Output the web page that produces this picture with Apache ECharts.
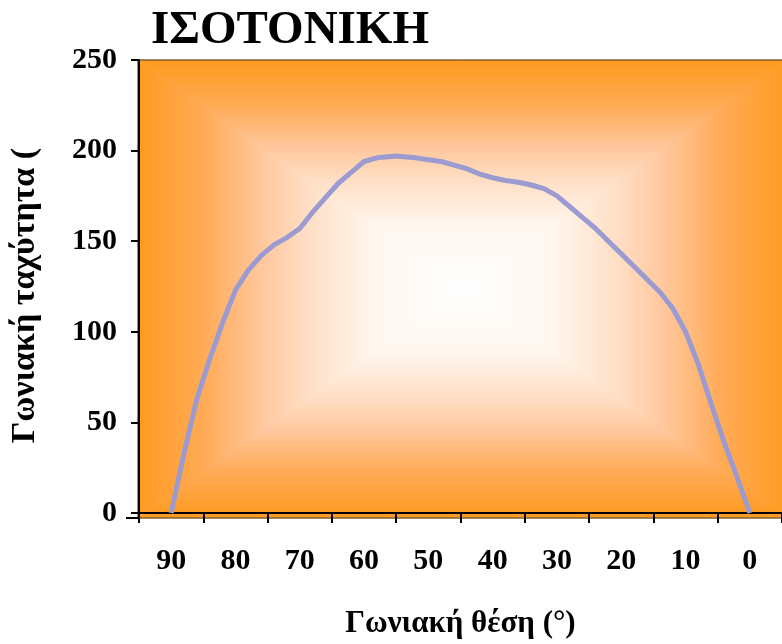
<!DOCTYPE html>
<html>
<head>
<meta charset="utf-8">
<title>ΙΣΟΤΟΝΙΚΗ</title>
<script src="https://cdn.jsdelivr.net/npm/echarts@6/dist/echarts.min.js"></script>
<style>
  html, body { margin: 0; padding: 0; background: #fff; }
  #chart { width: 782px; height: 644px; }
</style>
</head>
<body>
<div id="chart"></div>
<script>
// angular position (deg) and angular velocity
const angles = [90, 88, 86, 84, 82, 80, 78, 76, 74, 72, 70, 68, 66, 64, 62, 60, 58, 55, 52, 50,
  48, 46, 44, 42, 40, 38, 36, 34, 32, 30, 28, 26, 24, 22, 20, 18, 16, 14, 12, 10, 8, 6, 4, 2, 0];
const speeds = [0, 33, 63, 85, 105, 123, 134, 142, 148, 152, 157, 166, 174, 182, 188, 194, 196, 197, 196, 195,
  194, 192, 190, 187, 185, 183.5, 182.5, 181, 179, 175, 169, 163, 157, 150, 143, 136, 129, 122, 113, 100, 82, 60, 39, 20, 0];
const xLabels = ['90', '80', '70', '60', '50', '40', '30', '20', '10', '0'];

const FONT = "'Liberation Serif', 'Times New Roman', serif";
const GRID = { left: 138, top: 60, width: 650, height: 458 };

const stops = [
  { offset: 0, color: '#FFFFFF' },
  { offset: 0.28, color: '#FFF6EE' },
  { offset: 0.48, color: '#FFDEC4' },
  { offset: 0.62, color: '#FFC79C' },
  { offset: 0.8, color: '#FFAA55' },
  { offset: 1, color: '#FF9A1E' }
];

// rectangular "from centre" fill of the plot area, made of four triangles
function backdrop() {
  const l = GRID.left, t = GRID.top, r = l + GRID.width, b = t + GRID.height;
  const c = [l + GRID.width / 2, t + GRID.height / 2];
  const tri = (pts, x, y, x2, y2) => {
    const fill = { type: 'linear', x, y, x2, y2, colorStops: stops };
    return {
      type: 'polygon',
      silent: true,
      z: -10,
      shape: { points: pts },
      style: { fill, stroke: fill, lineWidth: 1 }
    };
  };
  return [
    tri([c, [l, t], [r, t]], 0, 1, 0, 0),
    tri([c, [l, b], [r, b]], 0, 0, 0, 1),
    tri([c, [l, t], [l, b]], 1, 0, 0, 0),
    tri([c, [r, t], [r, b]], 0, 0, 1, 0),
    {
      type: 'rect', silent: true, z: -5,
      shape: { x: l, y: t, width: GRID.width, height: GRID.height },
      style: { fill: 'none', stroke: '#444', lineWidth: 1 }
    },
    // the category axis line runs a little past the value axis, as in the original
    {
      type: 'line', silent: true, z: 5,
      shape: { x1: l - 12, y1: b, x2: l, y2: b },
      style: { stroke: '#000', lineWidth: 2 }
    }
  ];
}

const chart = echarts.init(document.getElementById('chart'));

const option = {
  animation: false,
  backgroundColor: '#fff',
  title: {
    text: 'ΙΣΟΤΟΝΙΚΗ',
    left: 146,
    top: 2,
    textStyle: { fontFamily: FONT, fontWeight: 'bold', fontSize: 47, color: '#000' }
  },
  grid: {
    left: GRID.left,
    top: GRID.top,
    right: 782 - GRID.left - GRID.width,
    bottom: 644 - GRID.top - GRID.height
  },
  graphic: backdrop(),
  xAxis: [
    {
      type: 'category',
      data: xLabels,
      boundaryGap: true,
      name: 'Γωνιακή θέση (°)',
      nameLocation: 'middle',
      nameGap: 95,
      nameTextStyle: { fontFamily: FONT, fontWeight: 'bold', fontSize: 31, color: '#000' },
      axisLine: { show: true, onZero: false, lineStyle: { color: '#000', width: 2 } },
      axisTick: { show: true, length: 10, lineStyle: { color: '#000', width: 2 } },
      axisLabel: { margin: 33, fontFamily: FONT, fontWeight: 'bold', fontSize: 30, color: '#000' },
      splitLine: { show: false }
    },
    {
      type: 'value',
      min: -5,
      max: 95,
      inverse: true,
      show: false
    }
  ],
  yAxis: {
    type: 'value',
    min: 0,
    max: 250,
    interval: 50,
    name: 'Γωνιακή ταχύτητα (',
    nameLocation: 'middle',
    nameRotate: 90,
    nameGap: 97,
    nameTextStyle: {
      fontFamily: FONT, fontWeight: 'bold', fontSize: 34, color: '#000',
      padding: [0, 18, 0, 0]
    },
    axisLine: { show: true, onZero: false, lineStyle: { color: '#000', width: 2 } },
    axisTick: { show: true, length: 8, lineStyle: { color: '#000', width: 2 } },
    axisLabel: { margin: 22, fontFamily: FONT, fontWeight: 'bold', fontSize: 30, color: '#000' },
    splitLine: { show: false }
  },
  series: [{
    type: 'line',
    xAxisIndex: 1,
    z: 10,
    data: angles.map((a, i) => [a, speeds[i]]),
    showSymbol: false,
    lineStyle: { color: '#9B9BD2', width: 5, join: 'round' },
    itemStyle: { color: '#9B9BD2' }
  }]
};

chart.setOption(option);
</script>
</body>
</html>
